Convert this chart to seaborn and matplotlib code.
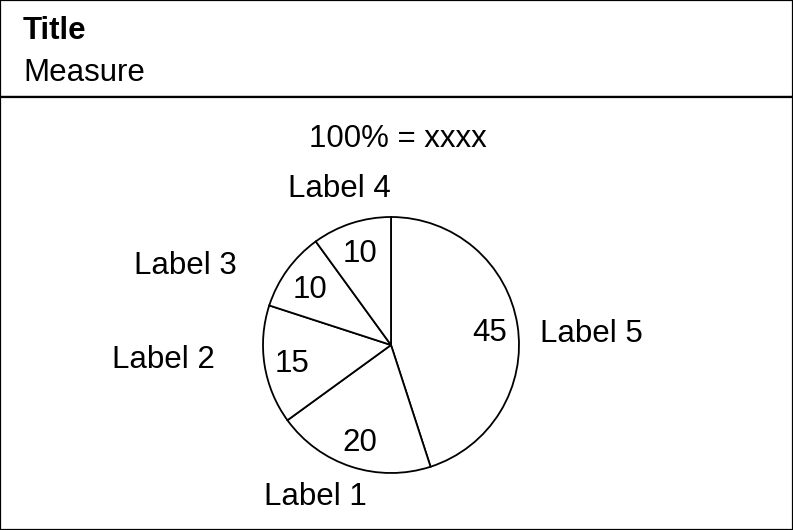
import matplotlib.pyplot as plt
import seaborn as sns
import numpy as np

# data
labels = ["Label 5", "Label 1", "Label 2", "Label 3", "Label 4"]
values = [45, 20, 15, 10, 10]
title = "Title"
measure = "Measure"
total_text = "100% = xxxx"

# label placement (radius factor, angle in degrees) around the pie
label_pos = [(1.57, 4), (1.30, -117), (1.78, 183), (1.73, 158), (1.31, 108)]

sns.set_theme(style="white")
plt.rcParams['font.family'] = ['Liberation Sans', 'DejaVu Sans']
plt.rcParams['text.color'] = 'black'
FS = 22.5

W, H = 793, 530
fig = plt.figure(figsize=(W / 100, H / 100), dpi=100)

# header box
head = fig.add_axes([0, 433 / H, 1, 97 / H])
head.set_xticks([])
head.set_yticks([])
for s in head.spines.values():
    s.set_color("black")
    s.set_linewidth(1.6)

# body box with the pie, drawn in pixel-like units
ax = fig.add_axes([0, 0, 1, 433 / H])
cx, cy, r = 391, 185, 128
wedges, texts, autotexts = ax.pie(
    values, labels=labels, startangle=90, counterclock=False,
    center=(cx, cy), radius=r, frame=True,
    autopct=lambda p: f"{p:.0f}", pctdistance=0.78,
    wedgeprops=dict(facecolor="white", edgecolor="black", linewidth=1.3),
    textprops=dict(fontsize=FS, color="black"),
)
for t, (d, ang) in zip(texts, label_pos):
    a = np.deg2rad(ang)
    t.set_position((cx + d * r * np.cos(a), cy + d * r * np.sin(a)))
    t.set_ha("center")
    t.set_va("center_baseline")
for t in autotexts:
    t.set_ha("center")
    t.set_va("center_baseline")

ax.set_xlim(0, W)
ax.set_ylim(0, 433)
ax.set_aspect("equal")
ax.set_xticks([])
ax.set_yticks([])
for s in ax.spines.values():
    s.set_color("black")
    s.set_linewidth(1.6)

fig.text(23 / W, 1 - 39 / H, title, fontsize=FS, fontweight="bold",
         va="baseline", color="black")
fig.text(23 / W, 1 - 81 / H, measure, fontsize=FS, va="baseline", color="black")
fig.text(398 / W, 1 - 135 / H, total_text, fontsize=FS, ha="center",
         va="center_baseline", color="black")

plt.savefig("out.png", dpi=100)
plt.close()
